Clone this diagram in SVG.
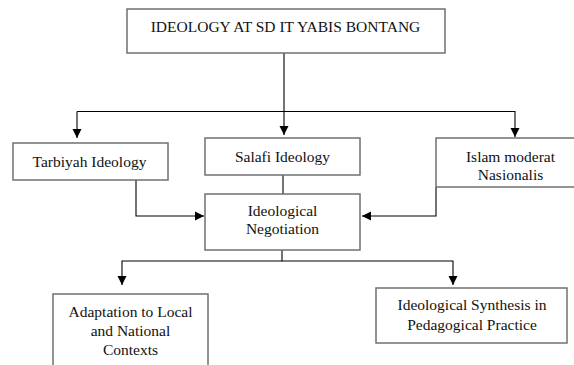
<svg xmlns="http://www.w3.org/2000/svg" width="574" height="365" viewBox="0 0 574 365">
<style>
.box{fill:#fff;stroke:#707070;stroke-width:1.5}
.t{font-family:'Liberation Serif','Times New Roman',serif;font-size:15.5px;fill:#111;text-anchor:middle}
.c{fill:none;stroke:#000;stroke-width:1.1}
</style>
<defs>
<marker id="ah" markerWidth="10" markerHeight="10" refX="9" refY="5" orient="auto" markerUnits="userSpaceOnUse">
<path d="M0,0.5 L9,5 L0,9.5 Z" fill="#000"/>
</marker>
</defs>
<rect width="574" height="365" fill="#fff"/>
<g id="connectors">
<line class="c" x1="284" y1="53" x2="284" y2="135" marker-end="url(#ah)"/>
<path class="c" d="M77,111.5 H515 V137" marker-end="url(#ah)"/>
<line class="c" x1="77" y1="111.5" x2="77" y2="138" marker-end="url(#ah)"/>
<line class="c" x1="283" y1="175" x2="283" y2="194"/>
<path class="c" d="M136,180 V216 H204" marker-end="url(#ah)"/>
<path class="c" d="M436,187 V216 H362" marker-end="url(#ah)"/>
<path class="c" d="M282,250 V261 H453 V285" marker-end="url(#ah)"/>
<path class="c" d="M282,261 H122 V285" marker-end="url(#ah)"/>
</g>
<g id="top">
<rect class="box" x="127" y="9" width="318" height="44"/>
<text class="t" x="285.5" y="31.5">IDEOLOGY AT SD IT YABIS BONTANG</text>
</g>
<g id="tarbiyah">
<rect class="box" x="13" y="143" width="155" height="37"/>
<text class="t" x="89.5" y="167">Tarbiyah Ideology</text>
</g>
<g id="salafi">
<rect class="box" x="205" y="138" width="155" height="37"/>
<text class="t" x="282.5" y="162">Salafi Ideology</text>
</g>
<g id="islam">
<rect class="box" x="436" y="138" width="150" height="49"/>
<text class="t" x="510.5" y="162">Islam moderat</text>
<text class="t" x="510.5" y="180">Nasionalis</text>
</g>
<g id="negotiation">
<rect class="box" x="205" y="194" width="155" height="56"/>
<text class="t" x="282.5" y="215.5">Ideological</text>
<text class="t" x="282.5" y="234">Negotiation</text>
</g>
<g id="adaptation">
<rect class="box" x="53" y="294" width="155" height="80"/>
<text class="t" x="130.5" y="316.5">Adaptation to Local</text>
<text class="t" x="130.5" y="335.5">and National</text>
<text class="t" x="130.5" y="355">Contexts</text>
</g>
<g id="synthesis">
<rect class="box" x="376" y="288" width="191" height="55"/>
<text class="t" x="472" y="309.5">Ideological Synthesis in</text>
<text class="t" x="472" y="329.5">Pedagogical Practice</text>
</g>
</svg>
